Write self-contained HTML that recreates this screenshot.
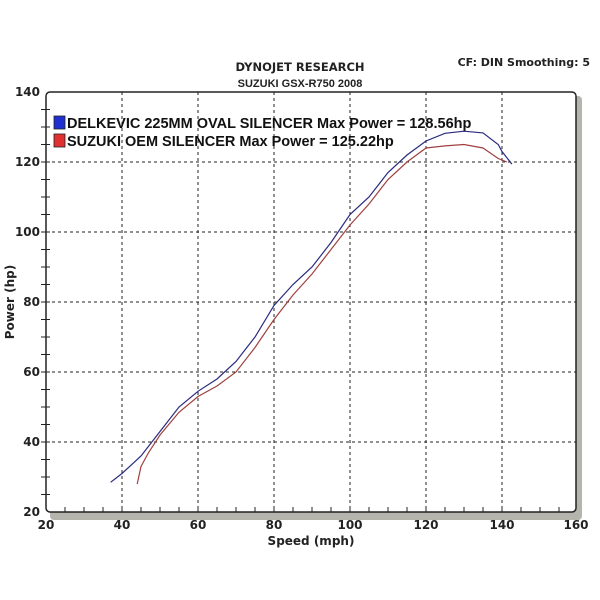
<!DOCTYPE html>
<html><head><meta charset="utf-8"><style>
html,body{margin:0;padding:0;background:#fff;}
svg{display:block;font-family:"DejaVu Sans","Liberation Sans",sans-serif;}
</style></head><body>
<svg width="600" height="600" viewBox="0 0 600 600" xmlns="http://www.w3.org/2000/svg">
<rect width="600" height="600" fill="#fff"/>
<text x="300" y="71" text-anchor="middle" font-size="11.5" font-weight="bold" fill="#222">DYNOJET RESEARCH</text>
<text x="300" y="87" text-anchor="middle" font-size="11" font-weight="bold" fill="#222" font-family="Liberation Sans,sans-serif">SUZUKI GSX-R750 2008</text>
<text x="590" y="66" text-anchor="end" font-size="11" font-weight="bold" fill="#222">CF: DIN  Smoothing: 5</text>
<rect x="50" y="96" width="532" height="424" rx="4" fill="#b5b5ad"/>
<rect x="46" y="92" width="530" height="420" rx="4" fill="#fff" stroke="#222" stroke-width="1.5"/>
<g stroke="#222" stroke-width="1" stroke-dasharray="3,3">
<line x1="122" y1="92" x2="122" y2="512"/><line x1="198" y1="92" x2="198" y2="512"/>
<line x1="274" y1="92" x2="274" y2="512"/><line x1="350" y1="92" x2="350" y2="512"/>
<line x1="426" y1="92" x2="426" y2="512"/><line x1="502" y1="92" x2="502" y2="512"/>
<line x1="46" y1="162" x2="576" y2="162"/><line x1="46" y1="232" x2="576" y2="232"/>
<line x1="46" y1="302" x2="576" y2="302"/><line x1="46" y1="372" x2="576" y2="372"/>
<line x1="46" y1="442" x2="576" y2="442"/>
</g>
<path stroke="#222" stroke-width="1" fill="none" d="
M65 507V512M84 507V512M103 507V512M122 507V512M141 507V512M160 507V512M179 507V512M198 507V512M217 507V512M236 507V512M255 507V512M274 507V512M293 507V512M312 507V512M331 507V512M350 507V512M369 507V512M388 507V512M407 507V512M426 507V512M445 507V512M464 507V512M483 507V512M502 507V512M521 507V512M540 507V512M559 507V512
M41 494.5H50M41 477H50M41 459.5H50M41 442H50M41 424.5H50M41 407H50M41 389.5H50M41 372H50M41 354.5H50M41 337H50M41 319.5H50M41 302H50M41 284.5H50M41 267H50M41 249.5H50M41 232H50M41 214.5H50M41 197H50M41 179.5H50M41 162H50M41 144.5H50M41 127H50M41 109.5H50"/>
<g font-size="12" font-weight="bold" fill="#222" text-anchor="end">
<text x="40" y="96">140</text><text x="40" y="166">120</text><text x="40" y="236">100</text>
<text x="40" y="306">80</text><text x="40" y="376">60</text><text x="40" y="446">40</text><text x="40" y="516">20</text>
</g>
<g font-size="12" font-weight="bold" fill="#222" text-anchor="middle">
<text x="46" y="529">20</text><text x="122" y="529">40</text><text x="198" y="529">60</text><text x="274" y="529">80</text>
<text x="350" y="529">100</text><text x="426" y="529">120</text><text x="502" y="529">140</text><text x="576" y="529">160</text>
</g>
<text x="311" y="545" text-anchor="middle" font-size="12" font-weight="bold" fill="#222">Speed (mph)</text>
<text transform="translate(14,302) rotate(-90)" text-anchor="middle" font-size="12" font-weight="bold" fill="#222">Power (hp)</text>
<rect x="54" y="116" width="11" height="13" fill="#2030d0" stroke="#222" stroke-width="0.8"/>
<rect x="54" y="134" width="11" height="13" fill="#e03030" stroke="#222" stroke-width="0.8"/>
<g font-family="Liberation Sans,sans-serif" font-size="14.5" font-weight="bold" fill="#111">
<text x="67" y="128">DELKEVIC 225MM OVAL SILENCER Max Power = 128.56hp</text>
<text x="67" y="146">SUZUKI OEM SILENCER Max Power = 125.22hp</text>
</g>
<polyline id="b" fill="none" stroke="#2a2a80" stroke-width="1.2"/>
<polyline id="r" fill="none" stroke="#a04040" stroke-width="1.2"/>
<script>
function X(v){return 46+(v-20)*3.8}function Y(p){return 512-(p-20)*3.5}
var B=[[37,28.5],[40,31],[45,36],[50,43],[55,50],[60,54.5],[65,58],[70,63],[75,70],[80,79],[85,85],[90,90],[95,97],[100,105],[105,110],[110,117],[115,122],[120,126],[125,128.2],[130,128.8],[135,128.3],[139,125],[140,123],[142.6,119.4]];
var R=[[44,28],[45,33],[47,37],[50,42],[55,48.5],[60,53],[65,56],[70,60],[75,67],[80,75],[85,82],[90,88],[95,95],[100,102],[105,108],[110,115],[115,120],[120,124],[125,124.6],[130,125],[135,124],[139,121],[141.3,120]];
function s(a){return a.map(function(p){return X(p[0]).toFixed(1)+','+Y(p[1]).toFixed(1)}).join(' ')}
document.getElementById('b').setAttribute('points',s(B));
document.getElementById('r').setAttribute('points',s(R));
</script>
</svg>
</body></html>
